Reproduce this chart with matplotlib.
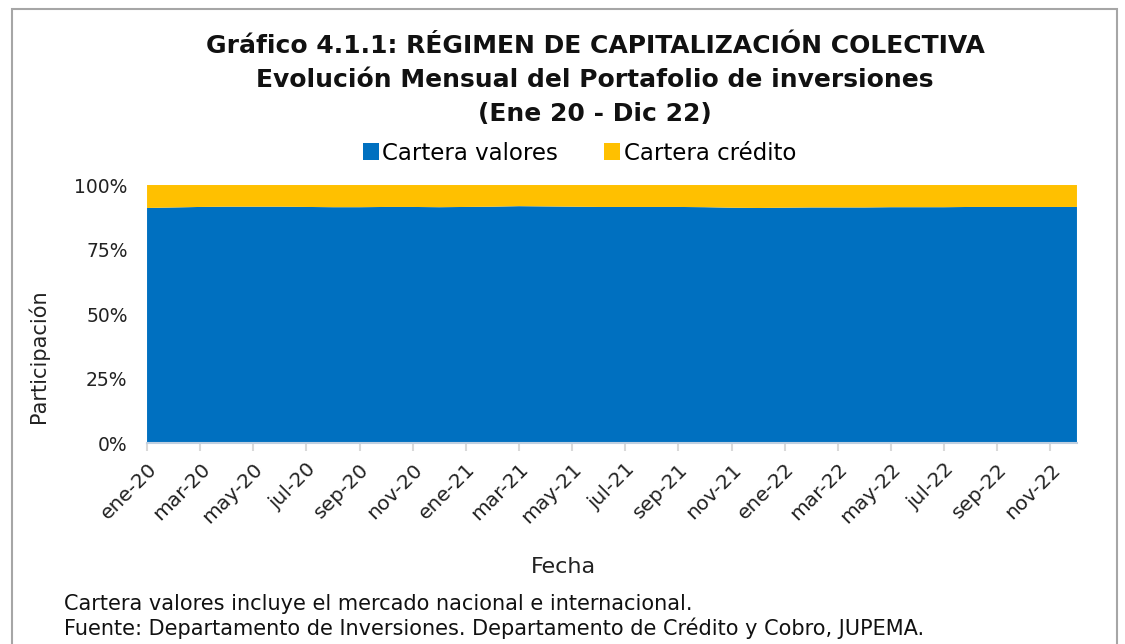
import matplotlib
matplotlib.use("Agg")
import matplotlib.pyplot as plt
from matplotlib.patches import Rectangle, Patch
import numpy as np

plt.rcParams['font.family'] = ['DejaVu Sans']

meses = ["ene", "feb", "mar", "abr", "may", "jun", "jul", "ago", "sep", "oct", "nov", "dic"]
fechas = [f"{m}-{y}" for y in ("20", "21", "22") for m in meses]

cartera_valores = [91.1, 91.3, 91.5, 91.6, 91.6, 91.6, 91.5, 91.4, 91.4, 91.5, 91.5, 91.4,
                   91.5, 91.6, 91.8, 91.7, 91.6, 91.5, 91.5, 91.5, 91.5, 91.4, 91.2, 91.1,
                   91.2, 91.3, 91.3, 91.3, 91.4, 91.4, 91.4, 91.5, 91.5, 91.5, 91.5, 91.5]
cartera_credito = [100 - v for v in cartera_valores]

series_labels = ["Cartera valores", "Cartera crédito"]
colors = ["#0070C0", "#FFC000"]

fig = plt.figure(figsize=(11.25, 6.44), dpi=100)
ax = fig.add_axes([0.1307, 0.3121, 0.8266, 0.4006])

x = np.arange(len(fechas))
ax.stackplot(x, [np.array(cartera_valores) / 100, np.array(cartera_credito) / 100],
             colors=colors, linewidth=0)

ax.set_xlim(0, len(fechas) - 1)
ax.set_ylim(0, 1)
ax.set_yticks([0, 0.25, 0.5, 0.75, 1.0])
ax.set_yticklabels(["0%", "25%", "50%", "75%", "100%"], fontsize=13.5, color="#222222")
ax.set_xticks(x[::2])
ax.set_xticklabels(fechas[::2], rotation=45, ha="right", rotation_mode="anchor",
                   fontsize=14.5, color="#222222")
ax.tick_params(axis="y", length=0, pad=14)
ax.tick_params(axis="x", length=6, color="#d9d9d9", width=1.5, pad=6)
for s in ["top", "right", "left"]:
    ax.spines[s].set_visible(False)
ax.spines["bottom"].set_color("#bfcfe0")
ax.spines["bottom"].set_linewidth(1.5)

ax.set_ylabel("Participación", fontsize=15, color="#222222")
ax.yaxis.set_label_coords(-0.105, 0.337)
fig.text(0.501, 1 - 567 / 644, "Fecha", fontsize=16, ha="center", va="center", color="#222222")

title = ["Gráfico 4.1.1: RÉGIMEN DE CAPITALIZACIÓN COLECTIVA",
         "Evolución Mensual del Portafolio de inversiones",
         "(Ene 20 - Dic 22)"]
for i, t in enumerate(title):
    fig.text(0.529, 1 - (46 + 34 * i) / 644, t, fontsize=18, fontweight="bold",
             ha="center", va="center", color="#111111")

handles = [Patch(facecolor=c, edgecolor="none") for c in colors]
fig.legend(handles, series_labels, loc="center", bbox_to_anchor=(0.515, 1 - 153 / 644),
           ncol=2, frameon=False, fontsize=16.5, handlelength=0.7, handleheight=0.7,
           handletextpad=0.15, columnspacing=2.0)

fig.text(0.057, 1 - 604 / 644, "Cartera valores incluye el mercado nacional e internacional.",
         fontsize=15, ha="left", va="center", color="#111111")
fig.text(0.057, 1 - 628 / 644,
         "Fuente: Departamento de Inversiones. Departamento de Crédito y Cobro, JUPEMA.",
         fontsize=15, ha="left", va="center", color="#111111")

fig.patches.append(Rectangle((12 / 1125, -0.05), (1117 - 12) / 1125, 1 - 9 / 644 + 0.05,
                             transform=fig.transFigure, fill=False, edgecolor="#a6a6a6",
                             linewidth=1.5))

fig.savefig("out.png", dpi=100)
